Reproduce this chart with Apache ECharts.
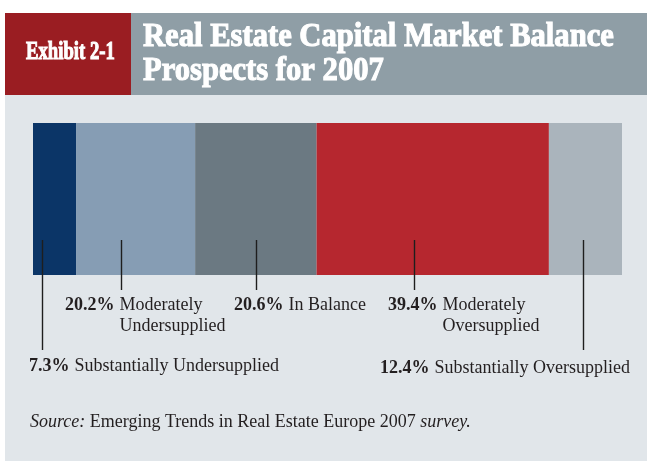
<!DOCTYPE html>
<html>
<head>
<meta charset="utf-8">
<script src="https://cdn.jsdelivr.net/npm/echarts@6/dist/echarts.min.js"></script>
<style>
  html, body { margin: 0; padding: 0; background: #ffffff; }
  #chart { width: 647px; height: 461px; }
</style>
</head>
<body>
<div id="chart"></div>
<script>
// Survey answers, in the order they run along the bar
const categories = [
  'Substantially Undersupplied',
  'Moderately Undersupplied',
  'In Balance',
  'Moderately Oversupplied',
  'Substantially Oversupplied'
];
const shares = [7.3, 20.2, 20.6, 39.4, 12.4];
// How each description is broken over lines beneath the bar
const labelLines = [
  ['Substantially Undersupplied'],
  ['Moderately', 'Undersupplied'],
  ['In Balance'],
  ['Moderately', 'Oversupplied'],
  ['Substantially Oversupplied']
];
const segmentColors = ['#0b3567', '#869db4', '#6b7982', '#b6272f', '#aab4bc'];

// Leader-line and label placement for each segment (layout only)
// frac: where along the segment the leader line sits
// lineEnd: bottom of the leader line (px); textDx: offset of description from the line
// textY: vertical centre of the first label line (px)
const leaderLayout = [
  { frac: 0.20, lineEnd: 350, textDx: 32, textY: 366 },
  { frac: 0.38, lineEnd: 290, textDx: -2, textY: 305 },
  { frac: 0.50, lineEnd: 290, textDx: 32, textY: 305 },
  { frac: 0.42, lineEnd: 290, textDx: 28, textY: 305 },
  { frac: 0.47, lineEnd: 350, textDx: -149, textY: 368 }
];

const total = shares.reduce((a, b) => a + b, 0);
const starts = [];
shares.reduce((acc, v) => { starts.push(acc); return acc + v; }, 0);

const serif = '"Liberation Serif", "Times New Roman", serif';
const labelFont = '18px ' + serif;
const labelBold = 'bold 18px ' + serif;

const barSeries = shares.map((v, i) => ({
  name: categories[i],
  type: 'bar',
  stack: 'total',
  barWidth: '100%',
  data: [v],
  itemStyle: { color: segmentColors[i] },
  silent: true
}));

const leaderSeries = {
  type: 'custom',
  z: 10,
  clip: false,
  silent: true,
  data: shares.map((v, i) => [starts[i], starts[i] + v, i]),
  renderItem: function (params, api) {
    const i = api.value(2);
    const lay = leaderLayout[i];
    const p0 = api.coord([api.value(0), 0]);
    const p1 = api.coord([api.value(1), 0]);
    const lineX = Math.round(p0[0] + lay.frac * (p1[0] - p0[0])) + 0.5;
    const descX = lineX + lay.textDx;
    const children = [{
      type: 'line',
      shape: { x1: lineX, y1: 240, x2: lineX, y2: lay.lineEnd },
      style: { stroke: '#1e1e1e', lineWidth: 1.4 }
    }, {
      type: 'text',
      x: descX - 5, y: lay.textY,
      style: {
        text: shares[i].toFixed(1) + '%',
        font: labelBold, fill: '#231f20',
        align: 'right', verticalAlign: 'middle'
      }
    }];
    labelLines[i].forEach((ln, k) => {
      children.push({
        type: 'text',
        x: descX, y: lay.textY + k * 21,
        style: {
          text: ln, font: labelFont, fill: '#231f20',
          align: 'left', verticalAlign: 'middle'
        }
      });
    });
    return { type: 'group', children: children };
  }
};

const chart = echarts.init(document.getElementById('chart'), null, { renderer: 'canvas' });

// Heavy white header lettering: bold face thickened with a matching outline
const headStyle = (text, size) => ({
  text: text, font: 'bold ' + size + 'px ' + serif, fill: '#ffffff',
  stroke: '#ffffff', lineWidth: 1.1,
  align: 'left', verticalAlign: 'middle'
});

chart.setOption({
  animation: false,
  backgroundColor: '#ffffff',
  graphic: [
    // panel body
    { type: 'rect', z: -10, shape: { x: 5, y: 95, width: 642, height: 366 }, style: { fill: '#e1e6ea' } },
    // header bands
    { type: 'rect', z: -10, shape: { x: 5, y: 13, width: 126, height: 82 }, style: { fill: '#9a1d22' } },
    { type: 'rect', z: -10, shape: { x: 131, y: 13, width: 516, height: 82 }, style: { fill: '#8f9ea6' } },
    { type: 'text', x: 26, y: 52, scaleX: 0.72, style: headStyle('Exhibit 2-1', 26) },
    { type: 'text', x: 143, y: 37, scaleX: 0.9, style: headStyle('Real Estate Capital Market Balance', 34) },
    { type: 'text', x: 143, y: 71, scaleX: 0.9, style: headStyle('Prospects for 2007', 34) },
    {
      type: 'text', x: 30, y: 422,
      style: {
        text: '{i|Source:} Emerging Trends in Real Estate Europe 2007 {i|survey.}',
        font: labelFont, fill: '#231f20', align: 'left', verticalAlign: 'middle',
        rich: { i: { font: 'italic 18px ' + serif, fill: '#231f20' } }
      }
    }
  ],
  grid: { left: 33, top: 123, width: 589, height: 152, containLabel: false },
  xAxis: { type: 'value', min: 0, max: total, show: false },
  yAxis: { type: 'category', data: ['Balance'], show: false },
  tooltip: { show: false },
  series: barSeries.concat([leaderSeries])
});
</script>
</body>
</html>
